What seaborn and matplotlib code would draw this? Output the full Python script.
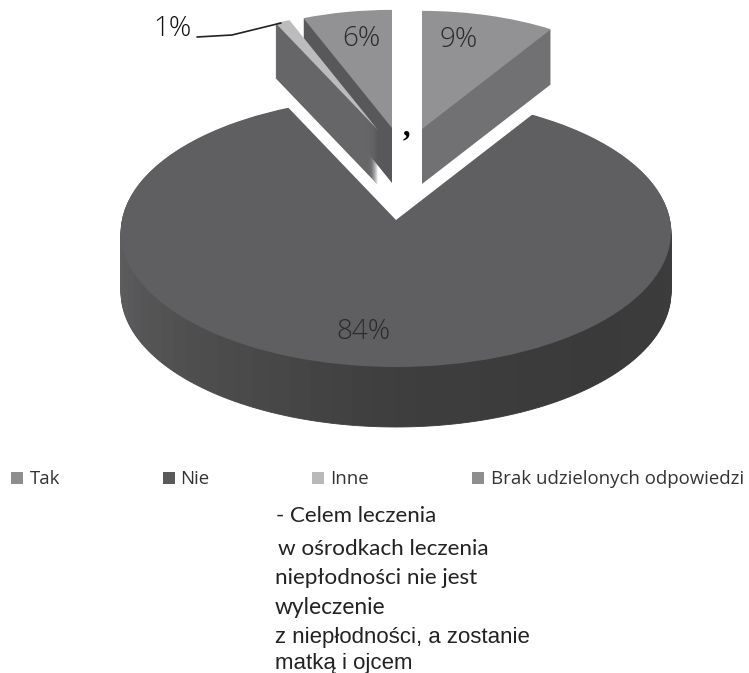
import matplotlib
matplotlib.use('Agg')
import matplotlib.pyplot as plt
import seaborn as sns

categories = ['Tak', 'Nie', 'Inne', 'Brak udzielonych odpowiedzi']
values = [9, 84, 1, 6]
value_labels = ['9%', '84%', '1%', '6%']
note_lines = ['- Celem leczenia', 'w ośrodkach leczenia', 'niepłodności nie jest',
              'wyleczenie', 'z niepłodności, a zostanie', 'matką i ojcem']

sns.set_theme(style='white')

# pixel geometry of the tilted disc
CX, CY, RX, RY = 396, 232, 275, 135
DEPTH = 60
SLICE_DEPTH = 55
SLICE_RADIUS = 0.875

top_colors = ['#929294', '#5f5f61', '#bcbcbe', '#929294']
side_colors = ['#717173', '#58585a', '#666668', '#58585a']
legend_colors = ['#8e8e8e', '#5a5a5a', '#b9b9b9', '#8e8e8e']
# apex of each pulled out slice, in pixels
apex = {0: (422, 129), 2: (378, 130), 3: (392, 128)}


def px(x, y):
    return (x - CX) / RX, (CY - y) / RY


fig, ax = plt.subplots(figsize=(7.49, 6.73), dpi=100)
fig.subplots_adjust(0, 0, 1, 1)
wp = dict(linewidth=0)


def draw_slice(value, start, center, radius, color):
    ax.pie([value, 100 - value], startangle=start, counterclock=False, center=center,
           radius=radius, colors=[color, 'none'], wedgeprops=wp)


# side of the big slice, shaded from left to right
shades = sns.blend_palette(['#5e5e60', '#4d4d4e', '#3e3e3e', '#3a3a3a', '#3c3c3c'], 40)
for k in range(DEPTH, 0, -1):
    wedges, _ = ax.pie([1] * 40 + [40], startangle=180, center=px(CX, CY + k), radius=1,
                       colors=list(shades) + [shades[0]], wedgeprops=wp)
    for w in wedges:
        w.set_edgecolor(w.get_facecolor())
        w.set_linewidth(0.6)
ax.pie([100], center=px(CX, CY), radius=1, colors=[top_colors[1]], wedgeprops=wp)

# white notch left by the other three slices
starts = [90 - sum(values[:i]) * 3.6 for i in range(len(values))]
draw_slice(100 - values[1], starts[2], px(396, 220), 1.2, 'white')

# pulled out slices, back ones first
for i in [0, 3, 2]:
    ax_, ay_ = apex[i]
    for k in range(SLICE_DEPTH, 0, -1):
        draw_slice(values[i], starts[i], px(ax_, ay_ + k), SLICE_RADIUS, side_colors[i])
    draw_slice(values[i], starts[i], px(ax_, ay_), SLICE_RADIUS, top_colors[i])

ax.set_aspect('auto')
ax.set_xlim(px(0, 0)[0], px(749, 0)[0])
ax.set_ylim(px(0, 673)[1], px(0, 0)[1])
ax.set_axis_off()

# value labels
label_pos = [(459, 40), (363, 332), (172, 29), (361, 39)]
label_colors = ['#2b2b2b', '#2b2b2b', '#111111', '#2b2b2b']
for lab, (x, y), col in zip(value_labels, label_pos, label_colors):
    ax.text(*px(x, y), lab, ha='center', va='center', fontsize=20, color=col,
            family='Open Sans', fontweight='light')
leader = [px(197, 37), px(232, 35), px(281, 23)]
ax.plot([p[0] for p in leader], [p[1] for p in leader], color='#222222', lw=1.2)
ax.text(*px(406, 128), ',', ha='center', va='center', fontsize=22, color='black',
        family='Liberation Serif', fontweight='bold')

# legend
square_x = [17, 169, 318, 478]
text_x = [30, 180, 330, 491]
for name, color, sx, tx in zip(categories, legend_colors, square_x, text_x):
    ax.scatter(*px(sx, 478), marker='s', s=72, color=color, linewidths=0)
    ax.text(*px(tx, 479), name, ha='left', va='center', fontsize=13.4, color='#333333',
            family='Open Sans')

# note under the chart
note_pos = [(276, 516), (278, 549), (275, 578), (275, 608), (275, 637), (275, 663)]
note_font = ['Lato', 'Lato', 'Lato', 'Lato', 'Liberation Sans', 'Liberation Sans']
note_size = [16, 16.2, 16.2, 16.4, 16, 16]
for line, (x, y), fam, size in zip(note_lines, note_pos, note_font, note_size):
    ax.text(*px(x, y), line, ha='left', va='center', fontsize=size, color='#222222',
            family=fam)

fig.savefig('out.png', dpi=100, facecolor='white')
plt.close(fig)
